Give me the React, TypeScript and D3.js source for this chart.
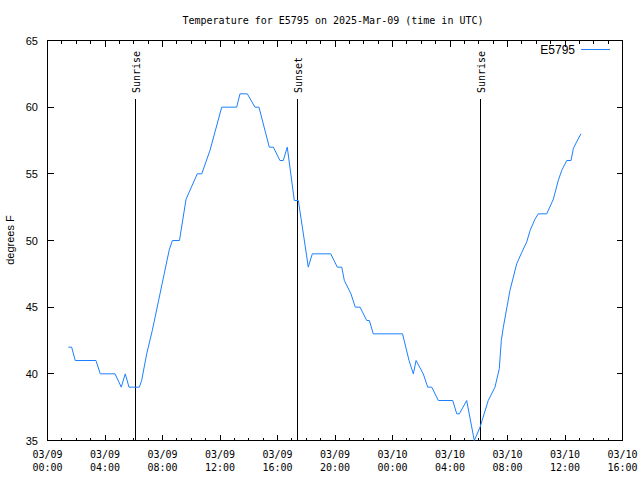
import React from "react";
import * as d3 from "d3";

const TITLE = "Temperature for E5795 on 2025-Mar-09 (time in UTC)";
const SERIES_NAME = "E5795";
const Y_LABEL = "degrees F";

// hours since 2025-03-09 00:00 UTC
const hours = [
  1.45, 1.68, 1.93, 3.37, 3.67, 4.7, 5.13, 5.41, 5.67, 6.39, 6.55, 6.9, 7.29,
  8.47, 8.69, 9.18, 9.64, 10.42, 10.73, 11.3, 12.12, 13.16, 13.39, 13.9, 14.43,
  14.71, 15.43, 15.71, 16.17, 16.4, 16.68, 17.17, 17.45, 18.02, 18.14, 18.42,
  19.7, 20.16, 20.47, 20.65, 21.11, 21.41, 21.74, 22.21, 22.39, 22.66, 24.7,
  25.15, 25.45, 25.64, 26.14, 26.45, 26.73, 27.19, 28.19, 28.47, 28.65, 29.16,
  29.69, 30.09, 30.66, 31.13, 31.43, 31.57, 31.71, 32.17, 32.64, 32.99, 33.34,
  33.57, 33.91, 34.14, 34.73, 35.19, 35.53, 35.77, 36.12, 36.42, 36.58, 36.81,
  37.11,
];
const temps = [
  42, 42, 41, 41, 40, 40, 39, 40, 39, 39, 39.5, 41.5, 43.25, 49.3, 50, 50, 53.1,
  55, 55, 56.75, 60, 60, 61, 61, 60, 60, 57, 57, 56, 56, 57, 53, 53, 48.9, 48,
  49, 49, 48, 48, 47, 46, 45, 45, 44, 44, 43, 43, 41, 40, 41, 40, 39, 39, 38,
  38, 37, 37, 38, 35, 36, 38, 39, 40.4, 42.5, 43.5, 46.25, 48.25, 49.1, 49.9,
  50.75, 51.6, 52, 52, 53.1, 54.5, 55.25, 56, 56, 56.9, 57.4, 58,
];

const sunEvents = ["Sunrise", "Sunset", "Sunrise"];
const sunHours = [6.1, 17.38, 30.09];

const xTickHours = [0, 4, 8, 12, 16, 20, 24, 28, 32, 36, 40];
const yTicks = [35, 40, 45, 50, 55, 60, 65];

const W = 640;
const H = 480;
const L = 47.5;
const R = 622.5;
const T = 40.5;
const B = 440.5;

const mono = "'DejaVu Sans Mono', monospace";
const sans = "'Liberation Sans', Arial, sans-serif";

export default function App() {
  const x = d3.scaleLinear().domain([0, 40]).range([L, R]);
  const y = d3.scaleLinear().domain([35, 65]).range([B, T]);
  const pts: [number, number][] = hours.map((h, i) => [h, temps[i]]);
  const line = d3
    .line<[number, number]>()
    .x((d) => x(d[0]))
    .y((d) => y(d[1]));

  const minor = d3.range(0, 41, 1).filter((h) => h % 4 !== 0);
  const pad = (n: number) => String(n).padStart(2, "0");

  return (
    <svg
      width={W}
      height={H}
      style={{ position: "absolute", left: 0, top: 0, background: "#fff" }}
    >
      <rect x={0} y={0} width={W} height={H} fill="#fff" />
      <text
        x={333}
        y={24}
        textAnchor="middle"
        fontFamily={mono}
        fontSize={10}
        fill="#000"
      >
        {TITLE}
      </text>

      {/* frame */}
      <rect
        x={L}
        y={T}
        width={R - L}
        height={B - T}
        fill="none"
        stroke="#000"
        strokeWidth={1}
        shapeRendering="crispEdges"
      />

      {/* x ticks */}
      {xTickHours.map((h) => (
        <g key={"xt" + h} shapeRendering="crispEdges">
          <line x1={x(h)} x2={x(h)} y1={B} y2={B - 6} stroke="#000" />
          <line x1={x(h)} x2={x(h)} y1={T} y2={T + 6} stroke="#000" />
          <text
            x={x(h)}
            y={458}
            textAnchor="middle"
            fontFamily={mono}
            fontSize={10}
          >
            {`03/${pad(9 + Math.floor(h / 24))}`}
          </text>
          <text
            x={x(h)}
            y={471}
            textAnchor="middle"
            fontFamily={mono}
            fontSize={10}
          >
            {`${pad(h % 24)}:00`}
          </text>
        </g>
      ))}
      {minor.map((h) => (
        <g key={"mt" + h} shapeRendering="crispEdges">
          <line x1={x(h)} x2={x(h)} y1={B} y2={B - 3} stroke="#000" />
          <line x1={x(h)} x2={x(h)} y1={T} y2={T + 3} stroke="#000" />
        </g>
      ))}

      {/* y ticks */}
      {yTicks.map((v) => (
        <g key={"yt" + v} shapeRendering="crispEdges">
          <line x1={L} x2={L + 6} y1={y(v)} y2={y(v)} stroke="#000" />
          <line x1={R} x2={R - 6} y1={y(v)} y2={y(v)} stroke="#000" />
          <text
            x={38}
            y={y(v) + 4}
            textAnchor="end"
            fontFamily={sans}
            fontSize={11}
          >
            {v}
          </text>
        </g>
      ))}

      <text
        transform={`translate(14,240) rotate(-90)`}
        textAnchor="middle"
        fontFamily={sans}
        fontSize={11}
      >
        {Y_LABEL}
      </text>

      {/* sun events */}
      {sunHours.map((h, i) => (
        <g key={"sun" + i}>
          <line
            x1={Math.round(x(h)) + 0.5}
            x2={Math.round(x(h)) + 0.5}
            y1={99}
            y2={B}
            stroke="#000"
            shapeRendering="crispEdges"
          />
          <text
            transform={`translate(${Math.round(x(h)) + 4.5},93) rotate(-90)`}
            textAnchor="start"
            fontFamily={mono}
            fontSize={10}
          >
            {sunEvents[i]}
          </text>
        </g>
      ))}

      {/* data line */}
      <path
        d={line(pts) || ""}
        fill="none"
        stroke="#1a80ff"
        strokeWidth={1}
      />

      {/* legend */}
      <text
        x={575}
        y={54}
        textAnchor="end"
        fontFamily={sans}
        fontSize={12}
      >
        {SERIES_NAME}
      </text>
      <line
        x1={581}
        x2={610}
        y1={49.5}
        y2={49.5}
        stroke="#1a80ff"
        shapeRendering="crispEdges"
      />
    </svg>
  );
}
